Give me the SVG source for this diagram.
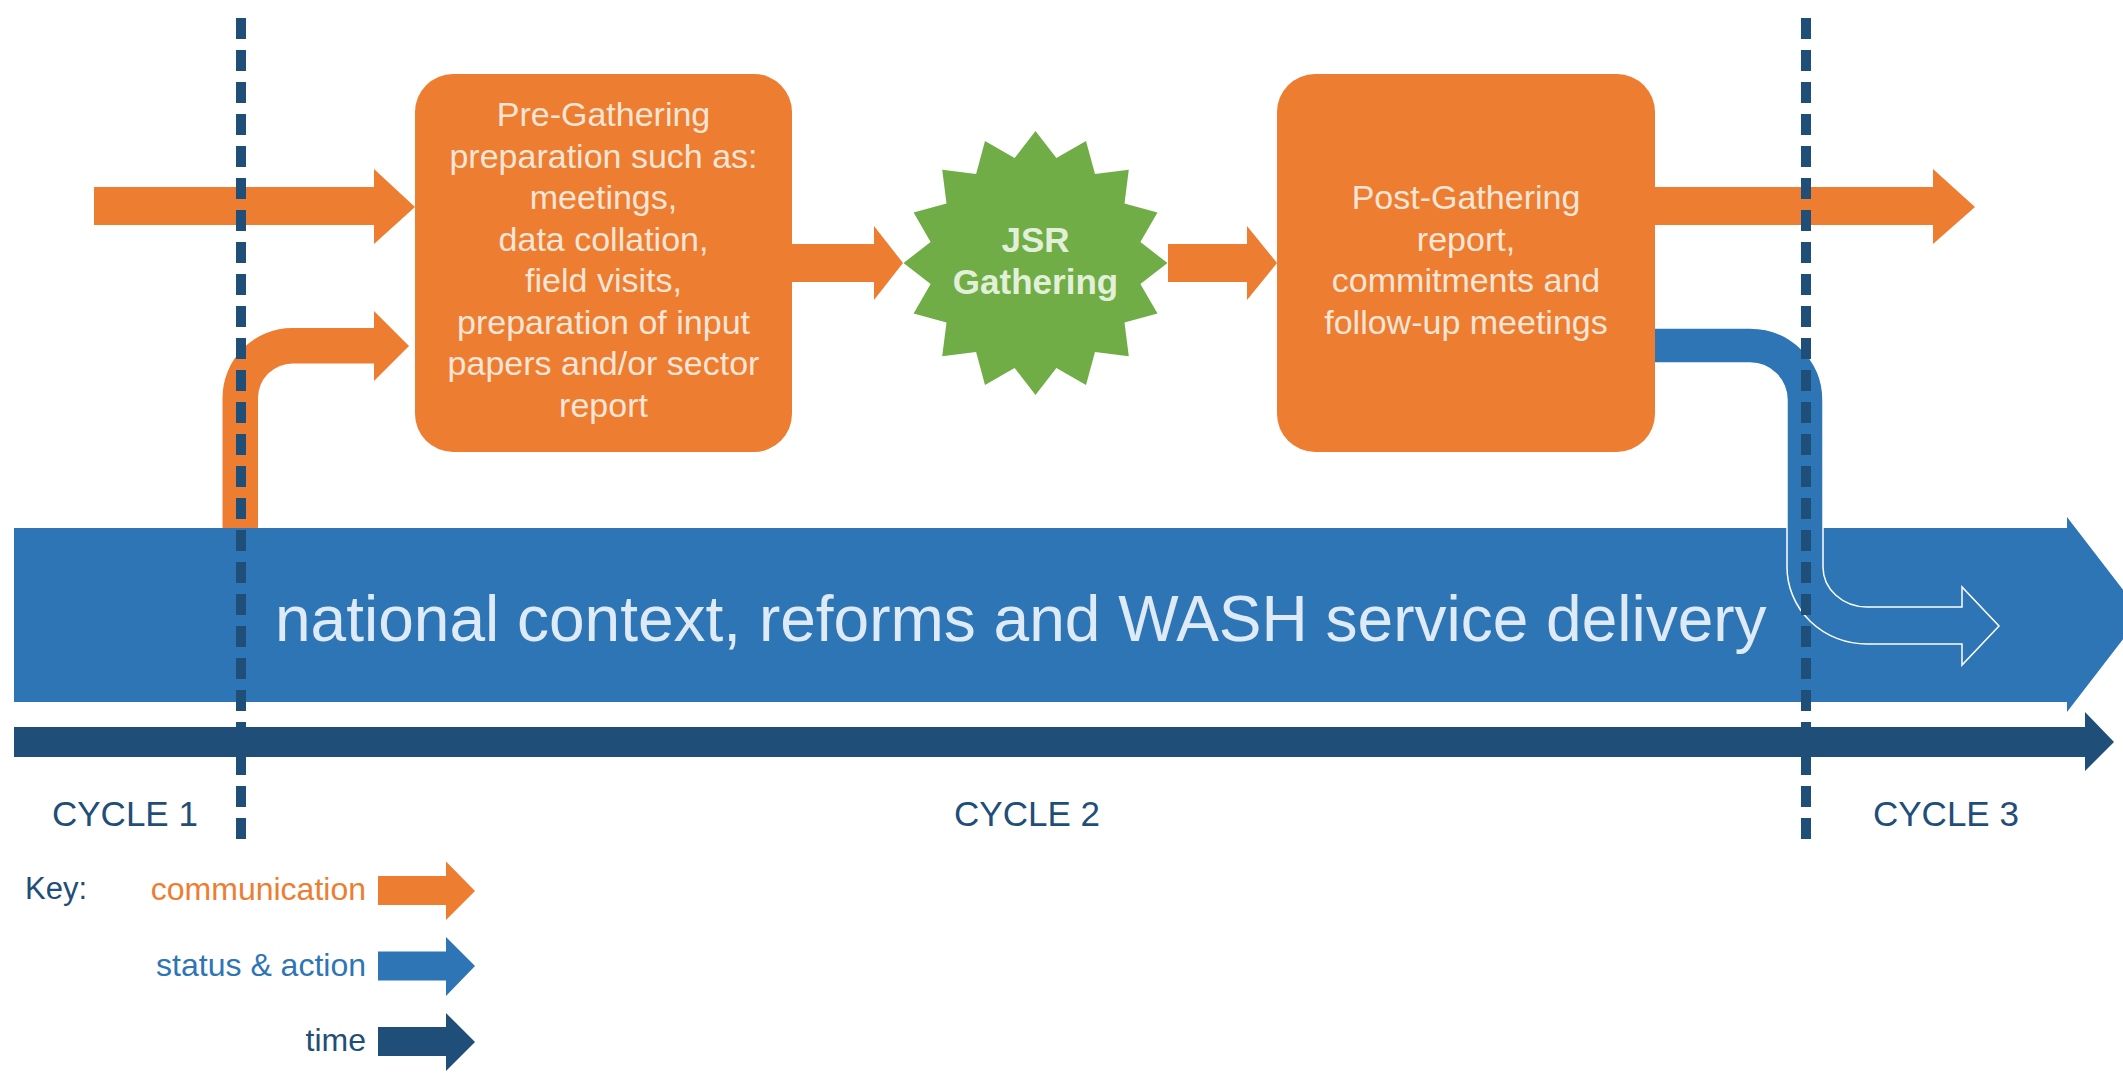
<svg xmlns="http://www.w3.org/2000/svg" width="2123" height="1080" viewBox="0 0 2123 1080">
<style>
  .orange { fill: #ED7D31; }
  .blue { fill: #2E75B6; }
  .dark { fill: #1F4E79; }
  .green { fill: #70AD47; }
  .t { font-family: "Liberation Sans", Arial, Helvetica, sans-serif; }
  .boxtxt { font-size: 34px; fill: #FBE5D6; text-anchor: middle; }
  .jsr { font-size: 35px; font-weight: bold; fill: #E2F0D9; text-anchor: middle; }
  .band { font-size: 64px; fill: #DEEBF7; }
  .cycle { font-size: 35px; fill: #1F4E79; }
  .key { font-size: 32px; text-anchor: end; }
  .divider { stroke: #1F4E79; stroke-width: 10; stroke-dasharray: 21 11; fill: none; }
</style>
<rect width="2123" height="1080" fill="#FFFFFF"/>

<g id="status-band">
  <polygon class="blue" points="14,528 2067,528 2067,517 2142,614.5 2067,712 2067,702 14,702"/>
  <text class="t band" x="275" y="641">national context, reforms and WASH service delivery</text>
</g>

<g id="time-axis">
  <polygon class="dark" points="14,727 2085,727 2085,712 2114,742 2085,771 2085,757 14,757"/>
</g>

<g id="connectors">
  <polygon class="orange" points="94,187 374,187 374,169 415,207 374,244 374,225 94,225"/>
  <path class="orange" d="M 222.5 528 L 222.5 398 A 70 70 0 0 1 292.5 328 L 374 328 L 374 311 L 409 346 L 374 381 L 374 363.5 L 292.5 363.5 A 34.5 34.5 0 0 0 258 398 L 258 528 Z"/>
  <polygon class="orange" points="788,244 874,244 874,226 903,263 874,300 874,282 788,282"/>
  <polygon class="orange" points="1168,244 1247,244 1247,226 1277,263 1247,300 1247,282 1168,282"/>
  <polygon class="orange" points="1650,187 1933,187 1933,169 1975,207 1933,244 1933,225 1650,225"/>
  <path class="blue" stroke="#FFFFFF" stroke-width="1.5" d="M 1650 328 L 1750 328 A 73 72 0 0 1 1823 400 L 1823 567 A 44 40 0 0 0 1867 607 L 1962 607 L 1962 587 L 1999 626 L 1962 665 L 1962 644 L 1867 644 A 80 77 0 0 1 1787 567 L 1787 400 A 37 37 0 0 0 1750 363 L 1650 363 Z"/>
</g>

<g id="pre-gathering">
  <rect class="orange" x="415" y="74" width="377" height="378" rx="38" ry="38"/>
  <text class="t boxtxt" x="603.5" y="126">Pre-Gathering</text>
  <text class="t boxtxt" x="603.5" y="167.5">preparation such as:</text>
  <text class="t boxtxt" x="603.5" y="209">meetings,</text>
  <text class="t boxtxt" x="603.5" y="250.5">data collation,</text>
  <text class="t boxtxt" x="603.5" y="292">field visits,</text>
  <text class="t boxtxt" x="603.5" y="333.5">preparation of input</text>
  <text class="t boxtxt" x="603.5" y="375">papers and/or sector</text>
  <text class="t boxtxt" x="603.5" y="416.5">report</text>
</g>

<g id="jsr-gathering">
  <polygon class="green" points="1035.5,131 1056.4,158.1 1086,141 1095,174 1128.8,169.7 1124.5,203.6 1157.5,212.5 1140.4,242.1 1167.5,263 1140.4,283.9 1157.5,313.5 1124.5,322.4 1128.8,356.3 1095,352 1086,385 1056.4,367.9 1035.5,395 1014.6,367.9 985,385 976.1,352 942.2,356.3 946.5,322.4 913.6,313.5 930.6,283.9 903.5,263 930.6,242.1 913.6,212.5 946.5,203.6 942.2,169.7 976.1,174 985,141 1014.6,158.1"/>
  <text class="t jsr" x="1035.5" y="252">JSR</text>
  <text class="t jsr" x="1035.5" y="294">Gathering</text>
</g>

<g id="post-gathering">
  <rect class="orange" x="1277" y="74" width="378" height="378" rx="38" ry="38"/>
  <text class="t boxtxt" x="1466" y="209">Post-Gathering</text>
  <text class="t boxtxt" x="1466" y="250.5">report,</text>
  <text class="t boxtxt" x="1466" y="292">commitments and</text>
  <text class="t boxtxt" x="1466" y="333.5">follow-up meetings</text>
</g>

<g id="cycle-dividers">
  <line class="divider" x1="241" y1="18" x2="241" y2="840"/>
  <line class="divider" x1="1806" y1="18" x2="1806" y2="840"/>
</g>

<g id="cycle-labels">
  <text class="t cycle" x="52" y="826">CYCLE 1</text>
  <text class="t cycle" x="1027" y="826" text-anchor="middle">CYCLE 2</text>
  <text class="t cycle" x="1873" y="826">CYCLE 3</text>
</g>

<g id="key">
  <text class="t" x="25" y="899" font-size="31" fill="#1F4E79">Key:</text>
  <text class="t key" x="366" y="900" fill="#ED7D31">communication</text>
  <polygon class="orange" points="378,876 446,876 446,861.5 475,891 446,920 446,905 378,905"/>
  <text class="t key" x="366" y="976" fill="#2E75B6">status &amp; action</text>
  <polygon class="blue" points="378,951.5 446,951.5 446,937 475,966 446,996 446,980.5 378,980.5"/>
  <text class="t key" x="366" y="1051" fill="#1F4E79">time</text>
  <polygon class="dark" points="378,1027 446,1027 446,1013 475,1042 446,1071 446,1056 378,1056"/>
</g>
</svg>
